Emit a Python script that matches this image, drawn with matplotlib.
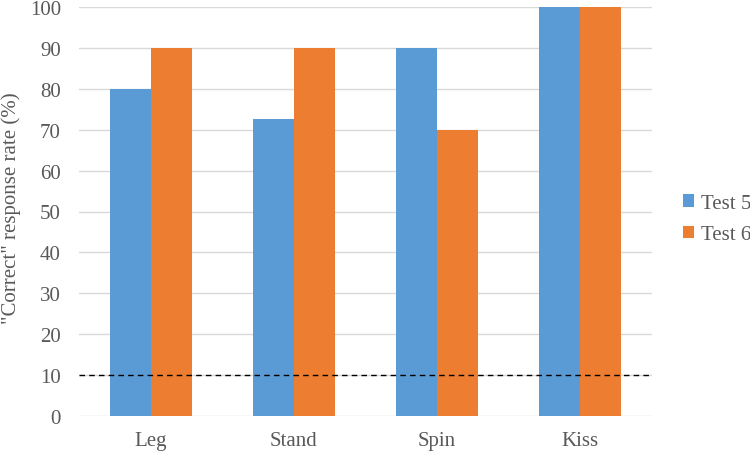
import numpy as np
import matplotlib.pyplot as plt

categories = ["Leg", "Stand", "Spin", "Kiss"]
test5 = [80, 72.7, 90, 100]
test6 = [90, 90, 70, 100]
chance_level = 10

plt.rcParams['font.family'] = ['Liberation Serif', 'DejaVu Serif']
txt = '#595959'

fig = plt.figure(figsize=(7.5, 4.52), dpi=100)
ax = fig.add_axes([79/750, 1-417/452, (652-79)/750, (417-8)/452])

x = np.arange(len(categories))
w = 0.287
ax.bar(x - w/2, test5, w, color='#5B9BD5', label='Test 5', zorder=2)
ax.bar(x + w/2, test6, w, color='#ED7D31', label='Test 6', zorder=2)
ax.axhline(chance_level, color='black', lw=1, ls=(0, (4, 3)), zorder=3)

ax.set_xlim(-0.5, len(categories) - 0.5)
ax.set_ylim(0, 100)
ax.set_yticks(range(0, 101, 10))
ax.set_xticks(x)
ax.set_xticklabels(categories)
ax.yaxis.grid(True, color='#D9D9D9', lw=1, zorder=0)
ax.set_axisbelow(True)
for s in ax.spines.values():
    s.set_visible(False)
ax.tick_params(length=0, labelsize=15, colors=txt)
ax.tick_params(axis='y', pad=13)
ax.tick_params(axis='x', pad=11)

# y label placed by hand so it sits at the left edge like the original
fig.text(11/750, 1-208/452, '"Correct" response rate (%)', fontsize=15, color=txt,
         rotation=90, ha='center', va='center')

fig.legend(loc='center left', bbox_to_anchor=(683/750, 1-220/452), frameon=False,
           fontsize=15, labelcolor=txt, handlelength=0.55, handleheight=0.55,
           handletextpad=0.3, labelspacing=0.6, borderpad=0, borderaxespad=0)

fig.savefig('out.png', dpi=100)
